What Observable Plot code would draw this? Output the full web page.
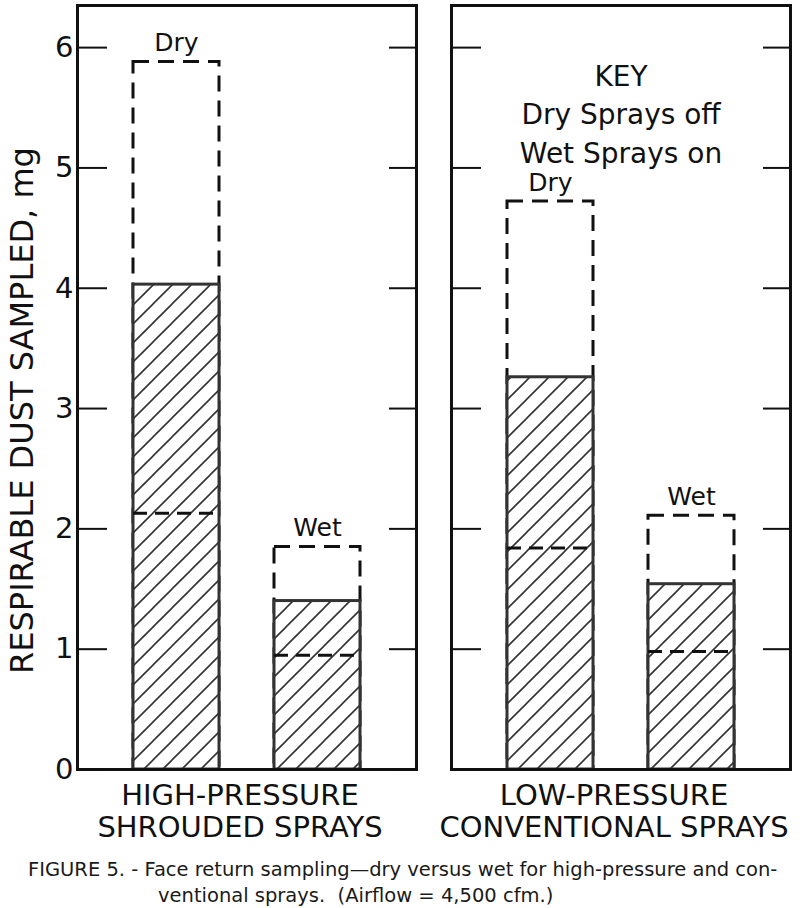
<!DOCTYPE html>
<html><head><meta charset="utf-8">
<script src="https://cdn.jsdelivr.net/npm/d3@7"></script>
<script src="https://cdn.jsdelivr.net/npm/@observablehq/plot@0.6"></script>
<style>
body{margin:0;background:#fff;}
#caption{font-family:"DejaVu Sans",sans-serif;font-size:19.5px;line-height:26px;color:#1a1a1a;margin-top:7px;white-space:pre;}
</style></head><body>
<div id="chart"></div>
<div id="caption"><div style="padding-left:28px">FIGURE 5. - Face return sampling—dry versus wet for high-pressure and con-</div><div style="padding-left:158px">ventional sprays.  (Airflow = 4,500 cfm.)</div></div>
<script>
const panels = ["HIGH-PRESSURE\nSHROUDED SPRAYS", "LOW-PRESSURE\nCONVENTIONAL SPRAYS"];
const conditions = ["Dry", "Wet"];
// per panel, [Dry, Wet]
const maxValues  = [[5.88, 1.85], [4.72, 2.11]];  // dashed outline top
const meanValues = [[4.03, 1.40], [3.26, 1.54]];  // hatched bar top
const minValues  = [[2.13, 0.95], [1.84, 0.98]];  // inner dashed line
const yTicks = [0, 1, 2, 3, 4, 5, 6];
const yLabel = "RESPIRABLE DUST SAMPLED, mg";
const keyLines = ["KEY", "Dry Sprays off", "Wet Sprays on"];

const rows = [];
panels.forEach((p, i) => conditions.forEach((c, j) => rows.push({
  panel: p, cond: c, max: maxValues[i][j], mean: meanValues[i][j], min: minValues[i][j]
})));
const keyData = [{panel: panels[1], text: keyLines.join("\n")}];
const labelData = [{panel: panels[0], text: yLabel}];

const ink = "#111";
const svg = Plot.plot({
  width: 800, height: 850,
  marginLeft: 76, marginRight: 9, marginTop: 5, marginBottom: 81,
  style: {fontFamily: "DejaVu Sans, sans-serif", color: ink, background: "#fff"},
  fx: {domain: panels, paddingInner: 0.093, paddingOuter: 0},
  x: {domain: conditions, padding: 0.39, axis: null},
  y: {domain: [0, 6.35]},
  marks: [
    Plot.barY(rows, {fx: "panel", x: "cond", y1: 0, y2: "max", fill: "none", stroke: ink, strokeWidth: 3, strokeDasharray: "16,9"}),
    Plot.barY(rows, {fx: "panel", x: "cond", y1: 0, y2: "mean", fill: "url(#hatch)", stroke: "#333", strokeWidth: 3}),
    Plot.tickY(rows, {fx: "panel", x: "cond", y: "min", stroke: ink, strokeWidth: 3, strokeDasharray: "14,8"}),
    Plot.text(rows, {fx: "panel", x: "cond", y: "max", text: "cond", lineAnchor: "bottom", dy: -11, fontSize: 25, fill: ink}),
    Plot.text(keyData, {fx: "panel", text: "text", frameAnchor: "top", dy: 53, lineHeight: 1.375, fontSize: 28, fill: ink}),
    Plot.frame({stroke: ink, strokeWidth: 3}),
    Plot.axisY({anchor: "left", ticks: yTicks, tickSize: -30, strokeWidth: 2, fill: "none", facetAnchor: null}),
    Plot.axisY({anchor: "right", ticks: yTicks, tickSize: -28, strokeWidth: 2, fill: "none", facetAnchor: null}),
    Plot.axisY({anchor: "left", ticks: yTicks, tickFormat: d => String(d), tickSize: 0, tickPadding: 4, fontSize: 29, label: null}),
    Plot.text(labelData, {fx: "panel", text: "text", frameAnchor: "left", rotate: -90, textAnchor: "middle", lineAnchor: "middle", dx: -55, dy: 23, fontSize: 32, fill: ink}),
    Plot.axisFx({anchor: "bottom", tickSize: 0, tickPadding: 12, fontSize: 29, lineHeight: 1.12, dx: -7, label: null})
  ]
});
svg.insertAdjacentHTML("afterbegin",
  '<defs><pattern id="hatch" patternUnits="userSpaceOnUse" width="19" height="19">' +
  '<rect width="19" height="19" fill="#fff"/>' +
  '<path d="M-2,2 L2,-2 M0,19 L19,0 M17,21 L21,17" stroke="#333" stroke-width="1.6"/></pattern></defs>');
document.getElementById("chart").appendChild(svg);
</script>
</body></html>
